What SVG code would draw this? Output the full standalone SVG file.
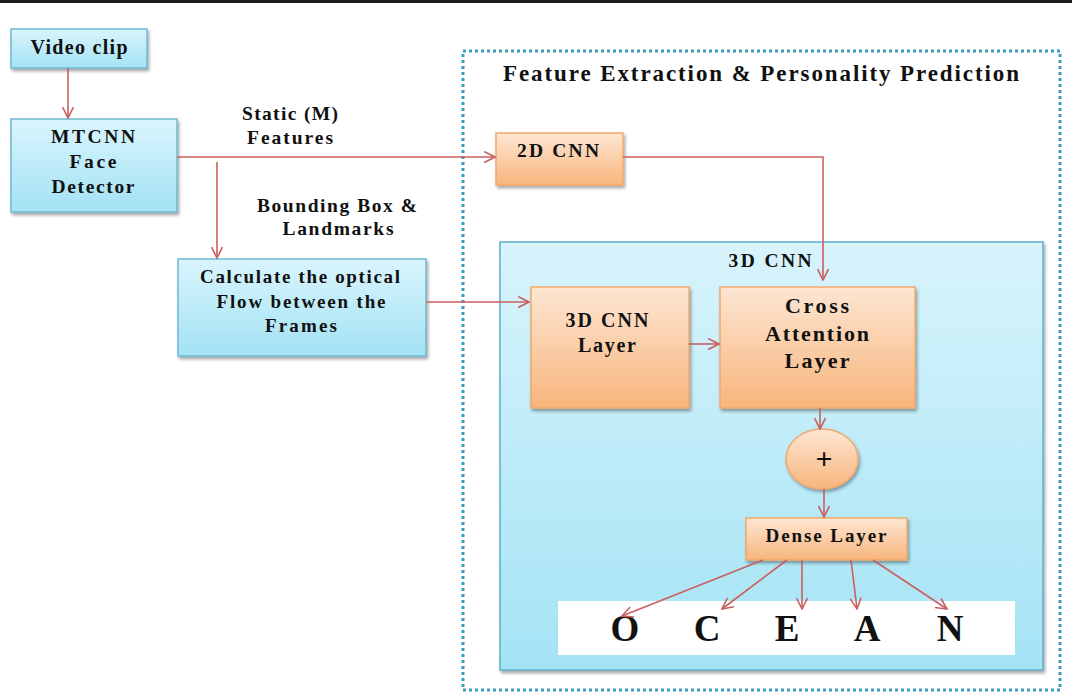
<svg xmlns="http://www.w3.org/2000/svg" width="1072" height="694" viewBox="0 0 1072 694">
<style>
.t{font-family:"Liberation Serif","Times New Roman",serif;font-weight:bold;fill:#111;text-anchor:middle}
.blue{fill:url(#gBlue);stroke:#6fb8d2;stroke-width:1.5;filter:url(#sh)}
.orange{fill:url(#gOrange);stroke:#f2a86a;stroke-width:1.5;filter:url(#sh)}
.c{fill:none;stroke:#c8605f;stroke-width:1.6}
.ca{fill:none;stroke:#c8605f;stroke-width:1.6;marker-end:url(#ah)}
</style>
<defs>
<linearGradient id="gBlue" x1="0" y1="0" x2="0" y2="1">
<stop offset="0" stop-color="#d9f5fd"/><stop offset="1" stop-color="#a3e2f4"/>
</linearGradient>
<linearGradient id="gBig" x1="0" y1="0" x2="0" y2="1">
<stop offset="0" stop-color="#d8f4fc"/><stop offset="1" stop-color="#a4e3f5"/>
</linearGradient>
<linearGradient id="gOrange" x1="0" y1="0" x2="0" y2="1">
<stop offset="0" stop-color="#fde6d3"/><stop offset="1" stop-color="#f8b57c"/>
</linearGradient>
<filter id="sh" x="-10%" y="-10%" width="125%" height="130%">
<feDropShadow dx="1.5" dy="2.5" stdDeviation="1.5" flood-color="#000" flood-opacity="0.35"/>
</filter>
<marker id="ah" viewBox="0 0 12 12" refX="11" refY="6" markerWidth="13" markerHeight="13" markerUnits="userSpaceOnUse" orient="auto">
<path d="M1,1 L11,6 L1,11" fill="none" stroke="#c8605f" stroke-width="1.5"/>
</marker>
</defs>
<rect x="0" y="0" width="1072" height="694" fill="#fff"/>
<rect x="0" y="0" width="1072" height="3" fill="#1c1c1c"/>

<g id="frame">
<rect x="463" y="51" width="597" height="639" fill="none" stroke="#3b9ec0" stroke-width="3" stroke-dasharray="3 3"/>
<text class="t" x="761" y="81" font-size="23" textLength="516" lengthAdjust="spacing">Feature Extraction &amp; Personality Prediction</text>
</g>

<g id="cnn3d-group">
<rect x="500" y="242" width="543" height="428" fill="url(#gBig)" stroke="#5fb0cc" stroke-width="1.5" filter="url(#sh)"/>
<text class="t" x="770" y="267" font-size="19.5" textLength="83" lengthAdjust="spacing">3D CNN</text>
</g>

<g id="video-clip">
<rect class="blue" x="11" y="29" width="136" height="39"/>
<text class="t" x="79" y="54" font-size="20" textLength="97" lengthAdjust="spacing">Video clip</text>
</g>

<g id="mtcnn">
<rect class="blue" x="11" y="119" width="166" height="93"/>
<text class="t" x="93" y="143" font-size="19.5" textLength="84" lengthAdjust="spacing">MTCNN</text>
<text class="t" x="93" y="168" font-size="19.5" textLength="47" lengthAdjust="spacing">Face</text>
<text class="t" x="93" y="193" font-size="19.5" textLength="83" lengthAdjust="spacing">Detector</text>
</g>

<g id="optical-flow">
<rect class="blue" x="178" y="259" width="248" height="97"/>
<text class="t" x="300" y="283" font-size="19" textLength="200" lengthAdjust="spacing">Calculate the optical</text>
<text class="t" x="301" y="308" font-size="19" textLength="169" lengthAdjust="spacing">Flow between the</text>
<text class="t" x="301" y="332" font-size="19" textLength="72" lengthAdjust="spacing">Frames</text>
</g>

<g id="cnn2d">
<rect class="orange" x="496" y="133" width="127" height="52"/>
<text class="t" x="558" y="157" font-size="19.5" textLength="82" lengthAdjust="spacing">2D CNN</text>
</g>

<g id="cnn3d-layer">
<rect class="orange" x="531" y="287" width="158" height="121"/>
<text class="t" x="607" y="327" font-size="20" textLength="83" lengthAdjust="spacing">3D CNN</text>
<text class="t" x="607" y="352" font-size="20" textLength="58" lengthAdjust="spacing">Layer</text>
</g>

<g id="cross-attention">
<rect class="orange" x="720" y="287" width="195" height="121"/>
<text class="t" x="817" y="313" font-size="22" textLength="64" lengthAdjust="spacing">Cross</text>
<text class="t" x="817" y="341" font-size="22" textLength="104" lengthAdjust="spacing">Attention</text>
<text class="t" x="817" y="368" font-size="22" textLength="65" lengthAdjust="spacing">Layer</text>
</g>

<g id="add">
<ellipse class="orange" cx="822" cy="459" rx="36" ry="30"/>
<text class="t" x="824" y="469" font-size="30">+</text>
</g>

<g id="dense">
<rect class="orange" x="746" y="518" width="161" height="42"/>
<text class="t" x="826" y="542" font-size="19" textLength="121" lengthAdjust="spacing">Dense Layer</text>
</g>

<g id="ocean">
<rect x="558" y="601" width="457" height="54" fill="#fff"/>
<text class="t" x="625" y="641" font-size="37">O</text>
<text class="t" x="707" y="641" font-size="37">C</text>
<text class="t" x="787" y="641" font-size="37">E</text>
<text class="t" x="867" y="641" font-size="37">A</text>
<text class="t" x="950" y="641" font-size="37">N</text>
</g>

<g id="labels">
<text class="t" x="290" y="120" font-size="19.5" textLength="96" lengthAdjust="spacing">Static (M)</text>
<text class="t" x="290" y="144" font-size="19.5" textLength="86" lengthAdjust="spacing">Features</text>
<text class="t" x="337" y="212" font-size="19.5" textLength="160" lengthAdjust="spacing">Bounding Box &amp;</text>
<text class="t" x="338" y="235" font-size="19.5" textLength="111" lengthAdjust="spacing">Landmarks</text>
</g>

<g id="connectors">
<line class="ca" x1="68" y1="68" x2="68" y2="118"/>
<line class="ca" x1="177" y1="157" x2="495" y2="157"/>
<line class="ca" x1="217" y1="162" x2="217" y2="258"/>
<line class="ca" x1="426" y1="302" x2="529" y2="302"/>
<line class="ca" x1="689" y1="344" x2="719" y2="344"/>
<polyline class="ca" points="623,157 823,157 823,280"/>
<line class="ca" x1="820" y1="408" x2="820" y2="429"/>
<line class="ca" x1="824" y1="489" x2="824" y2="517"/>
<line class="ca" x1="763" y1="560" x2="622" y2="616"/>
<line class="ca" x1="787" y1="560" x2="722" y2="609"/>
<line class="ca" x1="802" y1="560" x2="802" y2="609"/>
<line class="ca" x1="851" y1="560" x2="857" y2="609"/>
<line class="ca" x1="873" y1="560" x2="947" y2="609"/>
</g>
</svg>
